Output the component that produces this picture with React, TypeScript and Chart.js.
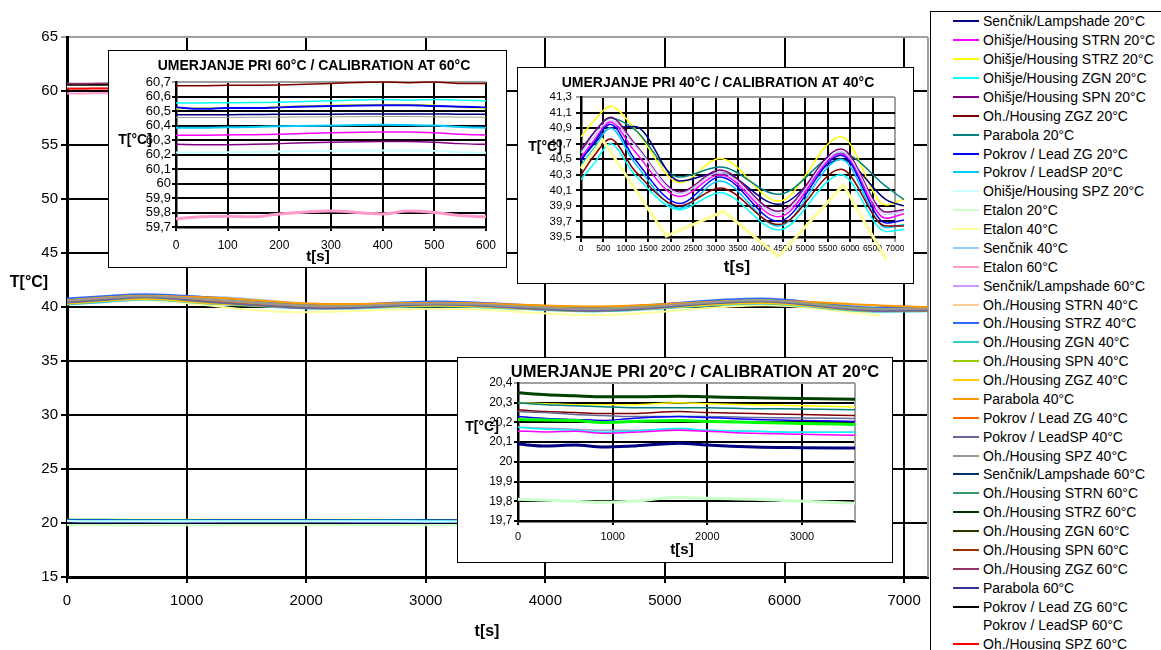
import React, { useEffect, useRef } from "react";
import { Chart, registerables } from "chart.js";
Chart.register(...registerables);

const FONT = "'Liberation Sans', Arial, sans-serif";

// ---------- time axes (s) ----------
const t20 = [0, 300, 600, 900, 1200, 1700, 2000, 2500, 3000, 3560];
const t40 = [0, 300, 650, 1200, 2200, 3100, 4400, 5800, 6800, 7200];
const tEtalon40 = [0, 480, 1900, 3180, 4400, 5850, 6800];
const t60 = [0, 50, 100, 150, 200, 300, 400, 450, 500, 550, 600];

// ---------- calibration at 20 °C ----------
const lampshade20 = [20.09, 20.08, 20.085, 20.075, 20.08, 20.095, 20.085, 20.075, 20.072, 20.07];
const strn20 = [20.157, 20.152, 20.155, 20.145, 20.15, 20.16, 20.155, 20.145, 20.14, 20.135];
const strz20 = [20.3, 20.295, 20.29, 20.29, 20.29, 20.3, 20.295, 20.29, 20.285, 20.278];
const zgn20 = [20.175, 20.165, 20.16, 20.15, 20.155, 20.17, 20.16, 20.155, 20.15, 20.15];
const spn20 = [20.255, 20.25, 20.24, 20.235, 20.23, 20.23, 20.23, 20.225, 20.222, 20.22];
const zgz20 = [20.264, 20.255, 20.25, 20.245, 20.245, 20.255, 20.25, 20.245, 20.24, 20.235];
const parabola20 = [20.3, 20.29, 20.285, 20.28, 20.275, 20.275, 20.275, 20.27, 20.268, 20.264];
const leadZG20 = [20.23, 20.22, 20.215, 20.21, 20.22, 20.23, 20.225, 20.215, 20.21, 20.205];
const leadSP20 = [20.215, 20.212, 20.21, 20.2, 20.205, 20.21, 20.205, 20.2, 20.195, 20.19];
const spz20 = [20.175, 20.17, 20.165, 20.16, 20.16, 20.165, 20.16, 20.155, 20.15, 20.15];
const etalon20 = [19.81, 19.805, 19.8, 19.795, 19.8, 19.82, 19.815, 19.81, 19.8, 19.79];
const upper20 = [20.35, 20.34, 20.335, 20.33, 20.33, 20.333, 20.33, 20.325, 20.322, 20.318];

// ---------- calibration at 40 °C ----------
const lampshade40 = [40.5, 40.7, 40.9, 40.92, 40.22, 40.33, 39.92, 40.5, 39.98, 39.9];
const strn40 = [40.52, 40.75, 40.98, 40.6, 40.02, 40.3, 39.76, 40.57, 39.74, 39.8];
const strz40 = [40.79, 41.0, 41.18, 40.89, 40.2, 40.51, 39.96, 40.79, 39.91, 39.99];
const zgn40 = [40.24, 40.45, 40.7, 40.3, 39.85, 40.07, 39.59, 40.3, 39.57, 39.6];
const spn40 = [40.62, 40.85, 41.04, 40.7, 40.08, 40.36, 39.83, 40.63, 39.82, 39.85];
const zgz40 = [40.3, 40.55, 40.76, 40.35, 39.9, 40.13, 39.66, 40.37, 39.64, 39.64];
const parabola40 = [40.6, 40.85, 41.03, 40.88, 40.27, 40.4, 40.05, 40.58, 40.15, 39.98];
const leadZG40 = [40.48, 40.72, 40.95, 40.5, 39.93, 40.27, 39.7, 40.55, 39.68, 39.72];
const leadSP40 = [40.42, 40.65, 40.9, 40.45, 39.87, 40.22, 39.64, 40.5, 39.62, 39.66];
const spz40 = [40.58, 40.8, 41.0, 40.68, 40.06, 40.33, 39.8, 40.6, 39.79, 39.83];
const etalon40 = [40.38, 40.75, 39.51, 39.83, 39.25, 40.17, 39.21];

// ---------- calibration at 60 °C ----------
const lampshade60 = [60.475, 60.475, 60.475, 60.476, 60.477, 60.478, 60.48, 60.48, 60.48, 60.478, 60.478];
const strn60 = [60.333, 60.333, 60.335, 60.337, 60.34, 60.35, 60.355, 60.355, 60.35, 60.34, 60.335];
const strz60 = [60.515, 60.52, 60.52, 60.52, 60.53, 60.54, 60.545, 60.545, 60.54, 60.525, 60.52];
const zgn60 = [60.555, 60.556, 60.557, 60.558, 60.56, 60.57, 60.58, 60.575, 60.58, 60.575, 60.57];
const spn60 = [60.27, 60.268, 60.268, 60.27, 60.275, 60.285, 60.29, 60.29, 60.285, 60.275, 60.27];
const zgz60 = [60.675, 60.675, 60.677, 60.678, 60.68, 60.69, 60.7, 60.695, 60.7, 60.69, 60.69];
const parabola60 = [60.455, 60.455, 60.456, 60.457, 60.458, 60.46, 60.462, 60.462, 60.46, 60.458, 60.457];
const leadZG60 = [60.525, 60.515, 60.52, 60.52, 60.525, 60.535, 60.54, 60.54, 60.535, 60.53, 60.525];
const leadSP60 = [60.385, 60.385, 60.388, 60.39, 60.395, 60.4, 60.405, 60.403, 60.4, 60.39, 60.385];
const spz60 = [60.213, 60.213, 60.215, 60.217, 60.22, 60.225, 60.228, 60.227, 60.225, 60.215, 60.212];
const etalon60 = [59.757, 59.77, 59.775, 59.77, 59.79, 59.81, 59.79, 59.81, 59.8, 59.78, 59.77];

// ---------- tick labels ----------
const mainXTicks = [0, 1000, 2000, 3000, 4000, 5000, 6000, 7000];
const mainYTicks = [15, 20, 25, 30, 35, 40, 45, 50, 55, 60, 65];
const x60Ticks = [0, 100, 200, 300, 400, 500, 600];
const y60Ticks = [59.7, 59.8, 59.9, 60, 60.1, 60.2, 60.3, 60.4, 60.5, 60.6, 60.7];
const x40Ticks = [0, 500, 1000, 1500, 2000, 2500, 3000, 3500, 4000, 4500, 5000, 5500, 6000, 6500, 7000];
const y40Ticks = [39.5, 39.7, 39.9, 40.1, 40.3, 40.5, 40.7, 40.9, 41.1, 41.3];
const x20Ticks = [0, 1000, 2000, 3000];
const y20Ticks = [19.7, 19.8, 19.9, 20, 20.1, 20.2, 20.3, 20.4];

// ---------- legend / main series ----------
const legendLabels = [
  "Senčnik/Lampshade 20°C", "Ohišje/Housing STRN 20°C", "Ohišje/Housing STRZ 20°C", "Ohišje/Housing ZGN 20°C",
  "Ohišje/Housing SPN 20°C", "Oh./Housing ZGZ 20°C", "Parabola 20°C", "Pokrov / Lead ZG 20°C",
  "Pokrov / LeadSP 20°C", "Ohišje/Housing SPZ 20°C", "Etalon 20°C", "Etalon 40°C", "Senčnik 40°C",
  "Etalon 60°C", "Senčnik/Lampshade 60°C", "Oh./Housing STRN 40°C", "Oh./Housing STRZ 40°C",
  "Oh./Housing ZGN 40°C", "Oh./Housing SPN 40°C", "Oh./Housing ZGZ 40°C", "Parabola 40°C",
  "Pokrov / Lead ZG 40°C", "Pokrov / LeadSP 40°C", "Oh./Housing SPZ 40°C", "Senčnik/Lampshade 60°C",
  "Oh./Housing STRN 60°C", "Oh./Housing STRZ 60°C", "Oh./Housing ZGN 60°C", "Oh./Housing SPN 60°C",
  "Oh./Housing ZGZ 60°C", "Parabola 60°C", "Pokrov / Lead ZG 60°C", "Pokrov / LeadSP 60°C",
  "Oh./Housing SPZ 60°C",
];
const legendColors = [
  "#000080", "#FF00FF", "#FFFF00", "#00FFFF", "#800080", "#800000", "#008080", "#0000FF",
  "#00CCFF", "#CCFFFF", "#CCFFCC", "#FFFF99", "#99CCFF", "#FF99CC", "#CC99FF", "#FFCC99",
  "#3366FF", "#33CCCC", "#99CC00", "#FFCC00", "#FF9900", "#FF6600", "#666699", "#969696",
  "#003366", "#339966", "#003300", "#333300", "#993300", "#993366", "#333399", "#000000",
  "#FFFFFF", "#FF0000",
];
const legendTimes = [
  t20, t20, t20, t20, t20, t20, t20, t20, t20, t20, t20, tEtalon40, t40, t60, t60, t40, t40, t40, t40,
  t40, t40, t40, t40, t40, t60, t60, t60, t60, t60, t60, t60, t60, t60, t60,
];
const legendValues = [
  lampshade20, strn20, strz20, zgn20, spn20, zgz20, parabola20, leadZG20, leadSP20, spz20, etalon20,
  etalon40, lampshade40, etalon60, lampshade60, strn40, strz40, zgn40, spn40, zgz40, parabola40,
  leadZG40, leadSP40, spz40, lampshade60, strn60, strz60, zgn60, spn60, zgz60, parabola60, leadZG60,
  leadSP60, spz60,
];

// inset series: [values, colour, width]
const inset60Series: [number[], string, number][] = [
  [zgz60, "#800000", 1.5], [zgn60, "#00FFFF", 1.5], [strz60, "#FFFF00", 1.5], [leadZG60, "#0000FF", 2],
  [lampshade60, "#000080", 1.5], [parabola60, "#A0A0A0", 1], [leadSP60, "#00CCFF", 2],
  [strn60, "#FF00FF", 1.5], [spn60, "#800080", 1.5], [spz60, "#CCFFFF", 2], [etalon60, "#FF99CC", 3],
];
const inset40Series: [number[], string, number][] = [
  [strz40, "#FFFF00", 1.5], [parabola40, "#008080", 1.5], [lampshade40, "#000080", 1.5],
  [spn40, "#800080", 1.5], [spz40, "#CCCCFF", 1.5], [strn40, "#FF00FF", 1.5], [leadZG40, "#0000FF", 1.5],
  [leadSP40, "#00CCFF", 1.5], [zgz40, "#800000", 1.5], [zgn40, "#00FFFF", 1.5],
];
const inset20Series: [number[], string, number][] = [
  [upper20, "#004000", 3], [strz20, "#FFFF00", 1.5], [parabola20, "#008080", 1.5], [zgz20, "#800000", 1.5],
  [spn20, "#666699", 1.5], [leadZG20, "#0000FF", 1.5], [leadSP20, "#00FF00", 3], [spz20, "#9999CC", 1.5],
  [zgn20, "#00FFFF", 1.5], [strn20, "#FF00FF", 1.5], [lampshade20, "#000080", 3], [etalon20, "#CCFFCC", 3],
];

const pts = (xs: number[], ys: number[]) => ys.map((y, i) => ({ x: xs[i], y }));
const comma = (v: number) => Number(Number(v).toFixed(1)).toString().replace(".", ",");

type Txt = { text: string; x: number; y: number; font: string };
type Opts = {
  W: number; H: number; plot: { l: number; t: number; r: number; b: number };
  xMin: number; xMax: number; xTicks: number[]; yMin: number; yMax: number; yTicks: number[];
  datasets: any[]; xFont: number; yFont: number; gridWidth: number; axisWidth: number;
  tickLen: number; xPad: number; yPad: number; texts: Txt[]; frame: boolean; rightBorder?: string;
  fmt: (v: number) => string; xLastGray?: boolean;
};

function makeChart(canvas: HTMLCanvasElement, o: Opts) {
  const deco = {
    id: "deco",
    beforeDraw(chart: any) {
      const ctx = chart.ctx;
      ctx.save();
      ctx.fillStyle = "#fff";
      ctx.fillRect(0, 0, chart.width, chart.height);
      ctx.restore();
    },
    beforeDatasetsDraw(chart: any) {
      const { ctx, chartArea: a } = chart;
      if (o.rightBorder) {
        ctx.save();
        ctx.strokeStyle = o.rightBorder;
        ctx.lineWidth = 2;
        ctx.beginPath();
        ctx.moveTo(a.right, a.top);
        ctx.lineTo(a.right, a.bottom);
        ctx.stroke();
        ctx.restore();
      }
    },
    afterDraw(chart: any) {
      const ctx = chart.ctx;
      ctx.save();
      if (o.frame) {
        ctx.strokeStyle = "#000";
        ctx.lineWidth = 1;
        ctx.strokeRect(0.5, 0.5, chart.width - 1, chart.height - 1);
      }
      ctx.fillStyle = "#000";
      ctx.textAlign = "center";
      ctx.textBaseline = "middle";
      o.texts.forEach((t) => {
        ctx.font = t.font;
        ctx.fillText(t.text, t.x, t.y);
      });
      ctx.restore();
    },
  };
  return new Chart(canvas, {
    type: "line",
    data: { datasets: o.datasets },
    plugins: [deco],
    options: {
      responsive: false,
      animation: false,
      devicePixelRatio: 1,
      layout: { padding: { left: 0, top: o.plot.t, right: o.W - o.plot.r, bottom: 0 } },
      plugins: { legend: { display: false }, tooltip: { enabled: false }, title: { display: false } },
      elements: { point: { radius: 0 } },
      scales: {
        x: {
          type: "linear",
          min: o.xMin,
          max: o.xMax,
          afterBuildTicks: (s: any) => { s.ticks = o.xTicks.map((v) => ({ value: v })); },
          afterFit: (s: any) => { s.height = o.H - o.plot.b; },
          ticks: {
            color: "#000", padding: o.xPad, maxRotation: 0, autoSkip: false,
            font: { family: FONT, size: o.xFont }, callback: (v: any) => o.fmt(v),
          },
          grid: {
            color: (c: any) => (o.xLastGray && c.tick && c.tick.value === o.xMax ? "#A0A0A0" : "#000"),
            lineWidth: o.gridWidth, tickLength: o.tickLen, drawTicks: true,
          },
          border: { color: "#000", width: o.axisWidth },
        },
        y: {
          type: "linear",
          min: o.yMin,
          max: o.yMax,
          afterBuildTicks: (s: any) => { s.ticks = o.yTicks.map((v) => ({ value: v })); },
          afterFit: (s: any) => { s.width = o.plot.l; },
          ticks: {
            color: "#000", padding: o.yPad, autoSkip: false,
            font: { family: FONT, size: o.yFont }, callback: (v: any) => o.fmt(v),
          },
          grid: {
            color: (c: any) => (c.tick && Math.abs(c.tick.value - o.yMax) < 1e-6 ? "#A0A0A0" : "#000"),
            lineWidth: o.gridWidth, tickLength: o.tickLen, drawTicks: true,
          },
          border: { color: "#000", width: o.axisWidth },
        },
      },
    } as any,
  });
}

const insetDs = (series: [number[], string, number][], xs: number[], tension: number) =>
  series.map(([ys, c, w], i) => ({
    data: pts(xs, ys), borderColor: c, backgroundColor: c, borderWidth: w,
    pointRadius: 0, tension, cubicInterpolationMode: "monotone", clip: false, fill: false,
    order: series.length - i,
  }));

export default function App() {
  const mainRef = useRef<HTMLCanvasElement>(null);
  const i60Ref = useRef<HTMLCanvasElement>(null);
  const i40Ref = useRef<HTMLCanvasElement>(null);
  const i20Ref = useRef<HTMLCanvasElement>(null);

  useEffect(() => {
    const charts: Chart[] = [];
    const mainDs = legendLabels.map((label, i) => ({
      label, data: pts(legendTimes[i], legendValues[i]), borderColor: legendColors[i],
      backgroundColor: legendColors[i], borderWidth: 2, pointRadius: 0,
      tension: legendTimes[i] === tEtalon40 ? 0 : 0.4, cubicInterpolationMode: "monotone", fill: false,
      order: legendLabels.length - i,
    }));
    charts.push(makeChart(mainRef.current!, {
      W: 930, H: 650, plot: { l: 67, t: 37, r: 928, b: 577 },
      xMin: 0, xMax: 7200, xTicks: mainXTicks, yMin: 15, yMax: 65, yTicks: mainYTicks,
      datasets: mainDs, xFont: 15, yFont: 15, gridWidth: 2, axisWidth: 3, tickLen: 6, xPad: 9, yPad: 3,
      texts: [
        { text: "T[°C]", x: 29, y: 283, font: `bold 16px ${FONT}` },
        { text: "t[s]", x: 487, y: 632, font: `bold 16px ${FONT}` },
      ],
      frame: false, rightBorder: "#A0A0A0", fmt: (v) => String(v),
    }));

    charts.push(makeChart(i60Ref.current!, {
      W: 399, H: 218, plot: { l: 68, t: 32, r: 378, b: 177 },
      xMin: 0, xMax: 600, xTicks: x60Ticks, yMin: 59.7, yMax: 60.7, yTicks: y60Ticks,
      datasets: insetDs(inset60Series, t60, 0.3), xFont: 12, yFont: 13, gridWidth: 2, axisWidth: 2.5,
      tickLen: 4, xPad: 7, yPad: 1,
      texts: [
        { text: "UMERJANJE PRI 60°C / CALIBRATION AT 60°C", x: 206, y: 16, font: `bold 14px ${FONT}` },
        { text: "T[°C]", x: 27, y: 90, font: `bold 14px ${FONT}` },
        { text: "t[s]", x: 210, y: 207, font: `bold 15px ${FONT}` },
      ],
      frame: true, fmt: comma,
    }));

    const ds40 = insetDs(inset40Series, t40, 0.4);
    ds40.push({
      data: pts(tEtalon40, etalon40), borderColor: "#FFFF99", backgroundColor: "#FFFF99", borderWidth: 3,
      pointRadius: 0, tension: 0, cubicInterpolationMode: "default", clip: false, fill: false, order: 0,
    } as any);
    charts.push(makeChart(i40Ref.current!, {
      W: 397, H: 217, plot: { l: 64, t: 30, r: 378, b: 170 },
      xMin: 0, xMax: 7000, xTicks: x40Ticks, yMin: 39.5, yMax: 41.3, yTicks: y40Ticks,
      datasets: ds40, xFont: 8.5, yFont: 11.5, gridWidth: 2, axisWidth: 2.5,
      tickLen: 5, xPad: 2, yPad: 4,
      texts: [
        { text: "UMERJANJE PRI 40°C / CALIBRATION AT 40°C", x: 201, y: 16, font: `bold 14px ${FONT}` },
        { text: "T[°C]", x: 28, y: 80, font: `bold 14px ${FONT}` },
        { text: "t[s]", x: 220, y: 200, font: `bold 17px ${FONT}` },
      ],
      frame: true, fmt: comma, xLastGray: true,
    }));

    charts.push(makeChart(i20Ref.current!, {
      W: 436, H: 206, plot: { l: 61, t: 26, r: 398, b: 164 },
      xMin: 0, xMax: 3560, xTicks: x20Ticks, yMin: 19.7, yMax: 20.4, yTicks: y20Ticks,
      datasets: insetDs(inset20Series, t20, 0.3), xFont: 11, yFont: 12, gridWidth: 2, axisWidth: 2.5,
      tickLen: 4, xPad: 5, yPad: 1.5,
      texts: [
        { text: "UMERJANJE PRI 20°C / CALIBRATION AT 20°C", x: 238, y: 15, font: `bold 16.5px ${FONT}` },
        { text: "T[°C]", x: 25, y: 70, font: `bold 14px ${FONT}` },
        { text: "t[s]", x: 225, y: 193, font: `bold 15px ${FONT}` },
      ],
      frame: true, rightBorder: "#A0A0A0", fmt: comma,
    }));

    return () => charts.forEach((c) => c.destroy());
  }, []);

  const abs = (l: number, t: number): React.CSSProperties => ({ position: "absolute", left: l, top: t });

  return (
    <div style={{ position: "absolute", left: 0, top: 0, width: 1161, height: 650, overflow: "hidden", background: "#fff", fontFamily: FONT }}>
      <canvas ref={mainRef} width={930} height={650} style={{ ...abs(0, 0), width: 930, height: 650 }} />
      <canvas ref={i60Ref} width={399} height={218} style={{ ...abs(108, 50), width: 399, height: 218 }} />
      <canvas ref={i40Ref} width={397} height={217} style={{ ...abs(517, 67), width: 397, height: 217 }} />
      <canvas ref={i20Ref} width={436} height={206} style={{ ...abs(457, 357), width: 436, height: 206 }} />
      <div style={{ ...abs(930, 11), width: 240, height: 700, border: "1px solid #000", boxSizing: "border-box", background: "#fff" }}>
        {legendLabels.map((label, i) => (
          <div key={i} style={{ position: "absolute", left: 0, top: i * 18.875, height: 18.875, display: "flex", alignItems: "center", whiteSpace: "nowrap" }}>
            <span style={{ display: "inline-block", marginLeft: 22, width: 26, height: 2, background: legendColors[i] }} />
            <span style={{ marginLeft: 4, fontSize: 14, color: "#000", fontFamily: FONT }}>{label}</span>
          </div>
        ))}
      </div>
    </div>
  );
}
